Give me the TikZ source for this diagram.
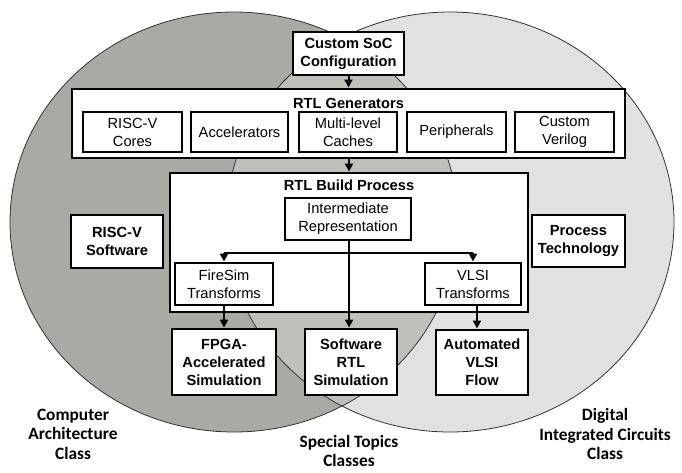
\documentclass[tikz,border=0pt]{standalone}
\usepackage{fontspec}
\setmainfont{Liberation Sans}
\newfontfamily\lblfont{Carlito}
\usetikzlibrary{arrows.meta}
\definecolor{leftc}{HTML}{A9AAA4}
\definecolor{rightc}{HTML}{E1E1E1}
\definecolor{midc}{HTML}{C0BFBA}
\definecolor{edgec}{HTML}{333333}
\tikzset{
  box/.style={draw=black, line width=2.2pt, fill=white, align=center, inner sep=0pt,
    font=\fontsize{11}{13.5}\selectfont},
  boldbox/.style={box, font=\fontsize{11}{13.5}\selectfont\bfseries},
  ttl/.style={align=center, inner sep=0pt, font=\fontsize{11}{13.5}\selectfont\bfseries},
  lbl/.style={align=center, inner sep=0pt, font=\fontsize{13}{14.6}\selectfont\lblfont\bfseries},
  arr/.style={line width=1.5pt, -{Triangle[length=6pt,width=6pt]}},
  ln/.style={line width=1.5pt},
  circ/.style={draw=edgec, line width=0.6pt}
}
\begin{document}
\begin{tikzpicture}[x=0.75pt, y=-0.75pt]
\useasboundingbox (0,0) rectangle (682,472);
% circles
\fill[leftc] (234,222) ellipse [x radius=224, y radius=210];
\fill[rightc] (450,222) ellipse [x radius=224, y radius=210];
\begin{scope}
  \clip (234,222) ellipse [x radius=224, y radius=210];
  \fill[midc] (450,222) ellipse [x radius=224, y radius=210];
\end{scope}
\draw[circ] (234,222) ellipse [x radius=224, y radius=210];
\draw[circ] (450,222) ellipse [x radius=224, y radius=210];

% top
\node[boldbox, minimum width=83.25pt, minimum height=32.25pt] (soc) at (348.5,53.5) {Custom SoC\\Configuration};
\node[box, minimum width=414.75pt, minimum height=51.75pt] (gen) at (348.5,123.5) {};
\node[ttl] (gent) at (348.5,103) {RTL Generators};
\node[box, minimum width=74.25pt, minimum height=30pt] (cores) at (132.5,132) {RISC-V\\Cores};
\node[box, minimum width=72.75pt, minimum height=30pt] (accel) at (239.5,132) {Accelerators};
\node[box, minimum width=73.5pt, minimum height=30pt] (caches) at (348,132) {Multi-level\\Caches};
\node[box, minimum width=74.25pt, minimum height=30pt] (periph) at (456.5,132) {Peripherals};
\node[box, minimum width=74.25pt, minimum height=30pt] (verilog) at (564.5,132) {Custom\\Verilog};

% build process
\node[box, minimum width=268.5pt, minimum height=104.25pt] (build) at (349,242.5) {};
\node[ttl] (buildt) at (349,185) {RTL Build Process};
\node[box, minimum width=94.5pt, minimum height=31.5pt] (ir) at (348,219) {Intermediate\\Representation};
\node[box, minimum width=73.5pt, minimum height=31.5pt] (firesim) at (224,284) {FireSim\\Transforms};
\node[box, minimum width=72pt, minimum height=31.5pt] (vlsi) at (473,284) {VLSI\\Transforms};

% outputs
\node[boldbox, minimum width=78pt, minimum height=49.5pt] (fpga) at (224,362) {FPGA-\\Accelerated\\Simulation};
\node[boldbox, minimum width=69pt, minimum height=49.5pt] (swrtl) at (351,362) {Software\\RTL\\Simulation};
\node[boldbox, minimum width=69pt, minimum height=48.75pt] (auto) at (482,362.5) {Automated\\VLSI\\Flow};

% side boxes
\node[boldbox, minimum width=69pt, minimum height=39.75pt] (rvsw) at (117,241.5) {RISC-V\\Software};
\node[boldbox, minimum width=69.75pt, minimum height=39pt] (ptech) at (578.5,241) {Process\\Technology};

% arrows
\coordinate (cx) at (349,0);
\coordinate (br) at (349,253);
\coordinate (vx) at (477,0);
\draw[arr] (soc.south) -- (soc.south |- gen.north);
\draw[arr] (cx |- gen.south) -- (cx |- build.north);
\draw[arr] (cx |- ir.south) -- (cx |- swrtl.north);
\draw[ln] (firesim.north |- br) -- (vlsi.north |- br);
\draw[arr] (firesim.north |- br) -- (firesim.north);
\draw[arr] (vlsi.north |- br) -- (vlsi.north);
\draw[arr] (firesim.south) -- (firesim.south |- fpga.north);
\draw[arr] (vx |- vlsi.south) -- (vx |- auto.north);

% labels
\node[lbl] (arch) at (73,434) {Computer\\Architecture\\Class};
\node[lbl] (spec) at (349,451) {Special Topics\\Classes};
\node[lbl] (dig) at (605,434) {Digital\\Integrated Circuits\\Class};
\end{tikzpicture}
\end{document}
